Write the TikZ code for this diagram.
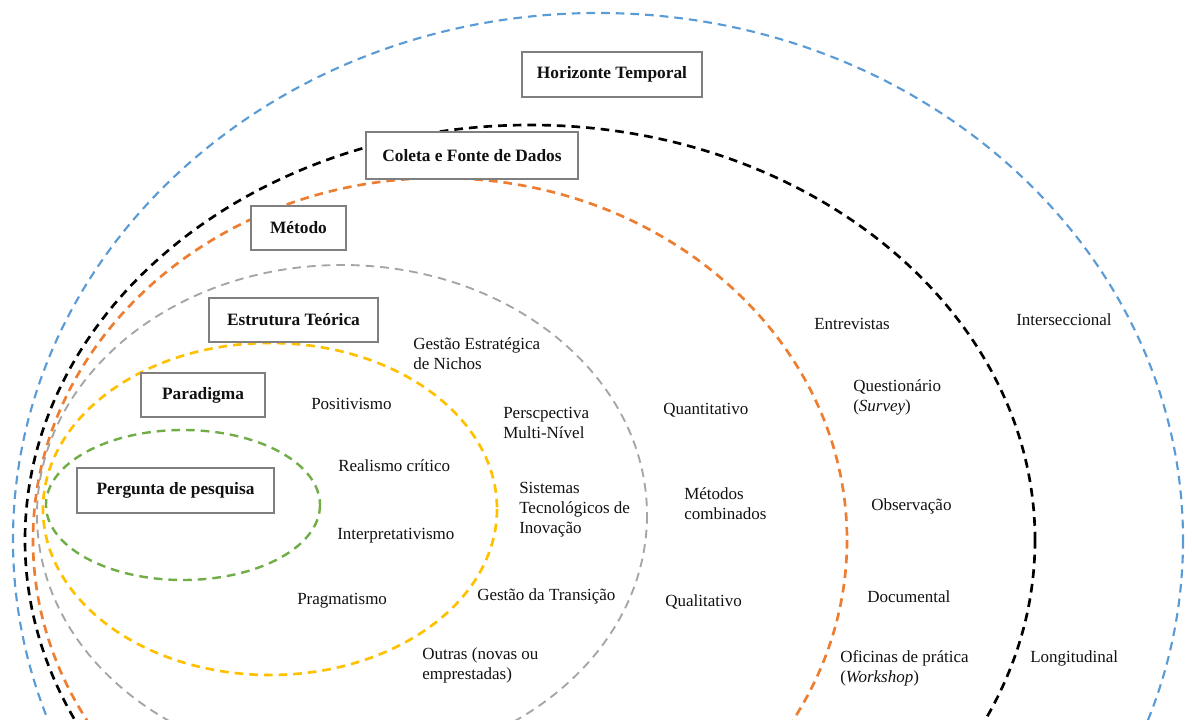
\documentclass[tikz,border=0pt]{standalone}
\usepackage{fontspec}
\setmainfont{Liberation Serif}
\definecolor{ringblue}{HTML}{5B9BD5}
\definecolor{ringorange}{HTML}{ED7D31}
\definecolor{ringgray}{HTML}{A5A5A5}
\definecolor{ringyellow}{HTML}{FFC000}
\definecolor{ringgreen}{HTML}{70AD47}
\definecolor{boxgray}{HTML}{7F7F7F}
\definecolor{txt}{HTML}{111111}
\begin{document}
\begin{tikzpicture}[x=0.75pt,y=-0.75pt,
  ring/.style={line width=1.8pt, dash pattern=on 6.5pt off 4.5pt},
  box/.style={draw=boxgray, line width=1.5pt, fill=white, text=txt,
    font=\bfseries\fontsize{13}{15}\selectfont, inner sep=0pt},
  lbl/.style={anchor=west, align=left, text=txt,
    font=\fontsize{12.75}{15}\selectfont, inner sep=0pt}]
\useasboundingbox (0,0) rectangle (1192,720);
\begin{scope}
\clip (0,0) rectangle (1192,720);
\draw[ring, ringblue, line width=1.6pt] (598,540) ellipse [x radius=585, y radius=527];
\draw[ring, black, line width=2pt] (530,540) ellipse [x radius=505, y radius=415];
\draw[ring, ringorange, line width=2pt] (440,540) ellipse [x radius=407, y radius=362];
\draw[ring, ringgray, line width=1.4pt] (342,515) ellipse [x radius=305, y radius=250];
\draw[ring, ringyellow, line width=2pt] (270,509) ellipse [x radius=227, y radius=166];
\draw[ring, ringgreen] (183,505) ellipse [x radius=137, y radius=75];
\end{scope}
% boxes
\node[box, minimum width=180*0.75pt, minimum height=45*0.75pt] (hor) at (612,74.5) {Horizonte Temporal};
\node[box, minimum width=212*0.75pt, minimum height=47*0.75pt] (col) at (472,155.5) {Coleta e Fonte de Dados};
\node[box, minimum width=95*0.75pt, minimum height=44*0.75pt] (met) at (298.5,228) {Método};
\node[box, minimum width=169*0.75pt, minimum height=44*0.75pt] (est) at (293.5,320) {Estrutura Teórica};
\node[box, minimum width=124*0.75pt, minimum height=44*0.75pt] (par) at (203,395) {Paradigma};
\node[box, minimum width=197*0.75pt, minimum height=45*0.75pt] (per) at (175.5,490.5) {Pergunta de pesquisa};
% paradigm labels
\node[lbl] (pos) at (311,404) {Positivismo};
\node[lbl] (rea) at (338,466) {Realismo crítico};
\node[lbl] (int) at (337,536) {Interpretativismo};
\node[lbl] (pra) at (297,601) {Pragmatismo};
% theoretical frameworks
\node[lbl] (gen) at (413,354) {Gestão Estratégica\\de Nichos};
\node[lbl] (pmn) at (503,423) {Perscpectiva\\Multi-Nível};
\node[lbl] (sti) at (519,510) {Sistemas\\Tecnológicos de\\Inovação};
\node[lbl] (gtr) at (477,596) {Gestão da Transição};
\node[lbl] (out) at (422,665) {Outras (novas ou\\emprestadas)};
% methods
\node[lbl] (qua) at (663,410) {Quantitativo};
\node[lbl] (mco) at (684,504) {Métodos\\combinados};
\node[lbl] (qual) at (665,602) {Qualitativo};
% data collection
\node[lbl] (ent) at (814,324) {Entrevistas};
\node[lbl] (que) at (853,397) {Questionário\\(\textit{Survey})};
\node[lbl] (obs) at (871,506) {Observação};
\node[lbl] (doc) at (867,597) {Documental};
\node[lbl] (ofi) at (840,668) {Oficinas de prática\\(\textit{Workshop})};
% time horizon
\node[lbl] (ins) at (1016,320) {Interseccional};
\node[lbl] (lon) at (1030,658) {Longitudinal};
\end{tikzpicture}
\end{document}
